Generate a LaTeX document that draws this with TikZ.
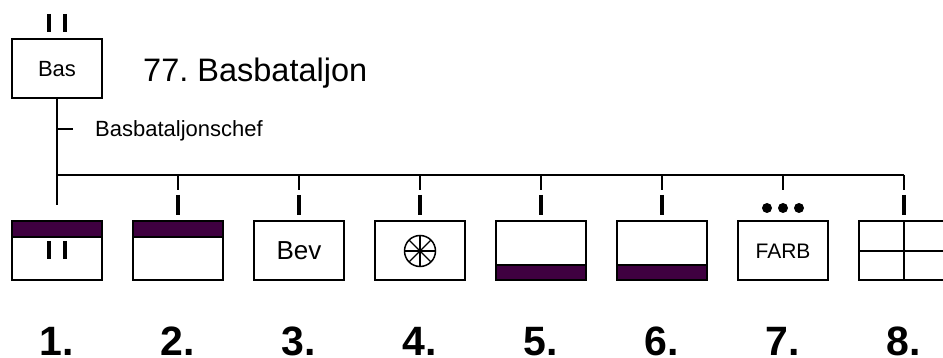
\documentclass[tikz,border=0pt]{standalone}
\usepackage{fontspec}
\setmainfont{Liberation Sans}
\usetikzlibrary{calc}
\definecolor{barcolor}{HTML}{3F0040}
\tikzset{
    unit/.style={draw=black, line width=2pt, minimum width=90pt, minimum height=59pt, inner sep=0pt, outer sep=0pt, fill=white},
    stem/.style={draw=black, line width=1.5pt},
    rank/.style={draw=black, line width=4.5pt},
    bar/.style={draw=black, line width=2pt, fill=barcolor},
    numeral/.style={inner sep=0pt, anchor=base, font=\fontsize{41}{41}\selectfont\bfseries}
}
\begin{document}
\begin{tikzpicture}[x=1pt, y=-1pt]
    \useasboundingbox (0,0) rectangle (943,358);
    \node[unit, font=\fontsize{22}{22}\selectfont] (bas) at (57,69) {Bas};
    \node[inner sep=0pt, anchor=base west, font=\fontsize{32.5}{32.5}\selectfont] (title) at (143,82) {\spaceskip=6pt 77. Basbataljon};
    \node[inner sep=0pt, anchor=base west, font=\fontsize{22}{22}\selectfont] (chef) at (95,137) {Basbataljonschef};
    \draw[rank] (49,14) -- (49,32);
    \draw[rank] (65,14) -- (65,32);
    \node[unit] (one) at (57,251) {};
    \node[unit] (two) at (178,251) {};
    \node[unit, font=\fontsize{26}{26}\selectfont] (three) at (299,251) {Bev};
    \node[unit] (four) at (420,251) {};
    \node[unit] (five) at (541,251) {};
    \node[unit] (six) at (662,251) {};
    \node[unit, font=\fontsize{21}{21}\selectfont] (seven) at (783,251) {FARB};
    \node[unit] (eight) at (904,251) {};
    \coordinate (bus) at (57,175);
    \coordinate (busend) at (904,175);
    \coordinate (foot) at (57,205);
    \coordinate (chefend) at (73,129);
    \draw[stem] (bas.south) -- (foot);
    \draw[stem] (bus) -- (busend);
    \draw[stem] (bas.south |- chefend) -- (chefend);
    \draw[stem] (two.north |- bus) -- ++(0,15);
    \draw[stem] (three.north |- bus) -- ++(0,15);
    \draw[stem] (four.north |- bus) -- ++(0,15);
    \draw[stem] (five.north |- bus) -- ++(0,15);
    \draw[stem] (six.north |- bus) -- ++(0,15);
    \draw[stem] (seven.north |- bus) -- ++(0,15);
    \draw[stem] (eight.north |- bus) -- ++(0,15);
    \draw[rank] (178,195) -- (178,215);
    \draw[rank] (299,195) -- (299,215);
    \draw[rank] (420,195) -- (420,215);
    \draw[rank] (541,195) -- (541,215);
    \draw[rank] (662,195) -- (662,215);
    \draw[rank] (904,195) -- (904,215);
    \fill (767,208) circle [radius=5];
    \fill (783,208) circle [radius=5];
    \fill (799,208) circle [radius=5];
    \draw[bar] (one.north west) rectangle ($(one.north east)+(0,16)$);
    \draw[bar] (two.north west) rectangle ($(two.north east)+(0,16)$);
    \draw[bar] ($(five.south west)+(0,-15)$) rectangle (five.south east);
    \draw[bar] ($(six.south west)+(0,-15)$) rectangle (six.south east);
    \draw[rank] (49,241) -- (49,259);
    \draw[rank] (65,241) -- (65,259);
    \draw[line width=1.5pt] (four.center) circle [radius=15.5];
    \draw[line width=1.2pt] (405,251) -- (435,251);
    \draw[line width=1.2pt] (420,236) -- (420,266);
    \draw[line width=1.2pt] (409,240) -- (431,262);
    \draw[line width=1.2pt] (409,262) -- (431,240);
    \draw[stem] (eight.north) -- (eight.south);
    \draw[stem] (eight.west) -- (eight.east);
    \node[numeral] (num1) at (57,355) {1.};
    \node[numeral] (num2) at (178,355) {2.};
    \node[numeral] (num3) at (299,355) {3.};
    \node[numeral] (num4) at (420,355) {4.};
    \node[numeral] (num5) at (541,355) {5.};
    \node[numeral] (num6) at (662,355) {6.};
    \node[numeral] (num7) at (783,355) {7.};
    \node[numeral] (num8) at (904,355) {8.};
\end{tikzpicture}
\end{document}
